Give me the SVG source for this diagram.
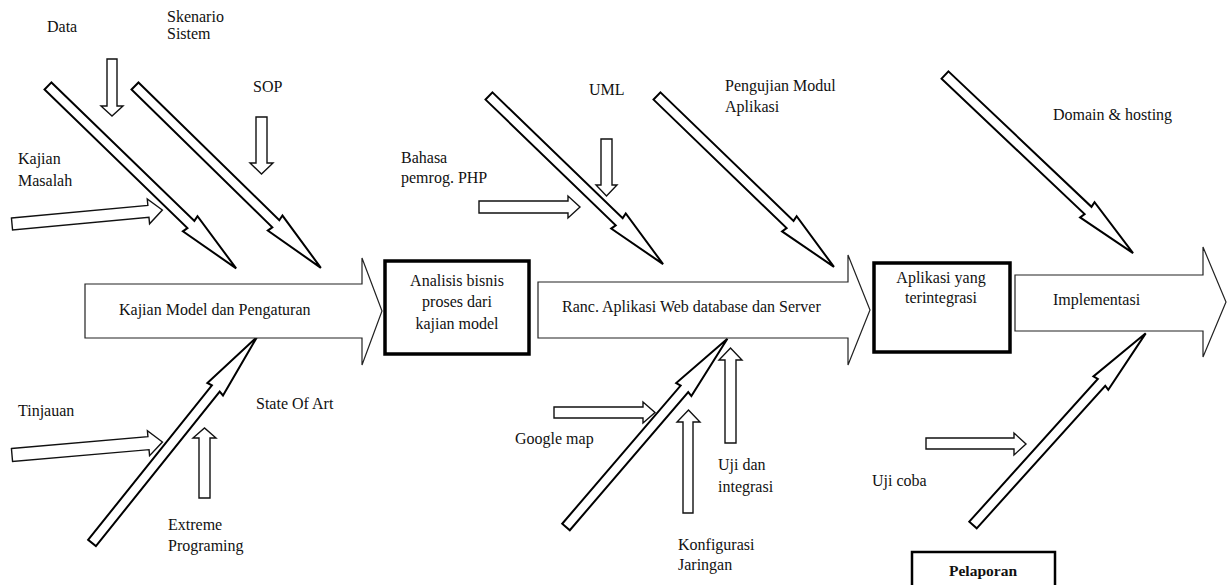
<svg xmlns="http://www.w3.org/2000/svg" width="1227" height="585" viewBox="0 0 1227 585" font-family="'Liberation Serif', 'Times New Roman', serif">
<style>
.spine{fill:#fff;stroke:#222;stroke-width:1.2}
.bone{fill:#fff;stroke:#000;stroke-width:2}
.small{fill:#fff;stroke:#111;stroke-width:1.4}
.box{fill:#fff;stroke:#000;stroke-width:3.5}
text{font-family:'Liberation Serif','Times New Roman',serif;font-size:16px;fill:#111}
.c{text-anchor:middle}
.b{font-weight:bold}
</style>
<rect width="1227" height="585" fill="#fff"/>
<g id="connectors">
  <path class="bone" transform="translate(48,86) rotate(44.1)" d="M0,-5 L199,-5 L198,-10.5 L262,0 L198,10.5 L199,5 L0,5 Z"/>
  <path class="bone" transform="translate(135,86) rotate(44.37)" d="M0,-5 L197,-5 L196,-10.5 L260,0 L196,10.5 L197,5 L0,5 Z"/>
  <path class="bone" transform="translate(489,96) rotate(44)" d="M0,-5 L181,-5 L180,-10.5 L242,0 L180,10.5 L181,5 L0,5 Z"/>
  <path class="bone" transform="translate(657,96) rotate(44)" d="M0,-5 L185,-5 L184,-10.5 L246,0 L184,10.5 L185,5 L0,5 Z"/>
  <path class="bone" transform="translate(945,75) rotate(43.44)" d="M0,-5 L197,-5 L196,-10.5 L259,0 L196,10.5 L197,5 L0,5 Z"/>
  <path class="bone" transform="translate(92,543) rotate(-51.3)" d="M0,-5 L198,-5 L197,-10 L264,0 L197,10 L198,5 L0,5 Z"/>
  <path class="bone" transform="translate(566,527) rotate(-49.4)" d="M0,-5 L182,-5 L181,-10 L248,0 L181,10 L182,5 L0,5 Z"/>
  <path class="bone" transform="translate(973,525) rotate(-47.98)" d="M0,-5 L192,-5 L191,-10 L258,0 L191,10 L192,5 L0,5 Z"/>
  <path class="small" d="M107,59 L117,59 L117,106 L123,106 L112,116 L101,106 L107,106 Z"/>
  <path class="small" d="M256,117 L267,117 L267,163 L273,163 L261.5,174 L250,163 L256,163 Z"/>
  <path class="small" d="M601,139 L612,139 L612,185 L617,185 L606.5,196 L596,185 L601,185 Z"/>
  <path class="small" d="M199,498 L210,498 L210,438 L216,438 L204.5,428 L193,438 L199,438 Z"/>
  <path class="small" d="M683,513 L693,513 L693,422 L700,422 L688.5,410 L677,422 L683,422 Z"/>
  <path class="small" d="M725,443 L736,443 L736,360 L742,360 L730.5,348 L719,360 L725,360 Z"/>
  <path class="small" d="M479,201 L568,201 L568,196 L580,207 L568,218 L568,213 L479,213 Z"/>
  <path class="small" d="M554,407 L643,407 L643,402 L655,412.5 L643,423 L643,418 L554,418 Z"/>
  <path class="small" d="M926,438 L1014,438 L1014,433 L1026,444 L1014,455 L1014,449 L926,449 Z"/>
  <path class="small" transform="translate(12,224) rotate(-5.3)" d="M0,-6 L137,-6 L137,-12.5 L151,0 L137,12.5 L137,6 L0,6 Z"/>
  <path class="small" transform="translate(12,455) rotate(-4.95)" d="M0,-6.5 L137,-6.5 L137,-12.5 L151,0 L137,12.5 L137,6.5 L0,6.5 Z"/>
</g>
<g id="spine1">
  <path class="spine" d="M85,284 L362,284 L362,258 L382,311 L362,365 L362,338 L85,338 Z"/>
  <text x="119" y="315">Kajian Model dan Pengaturan</text>
</g>
<g id="spine2">
  <path class="spine" d="M538,282 L848,282 L848,255 L870,310 L848,365 L848,338 L538,338 Z"/>
  <text x="562" y="312">Ranc. Aplikasi Web database dan Server</text>
</g>
<g id="spine3">
  <path class="spine" d="M1015,275 L1203,275 L1203,247 L1226,302 L1203,357 L1203,331 L1015,331 Z"/>
  <text x="1053" y="305">Implementasi</text>
</g>
<g id="box-analisis">
  <rect class="box" x="385" y="261" width="144" height="93"/>
  <text class="c" x="457" y="286">Analisis bisnis</text>
  <text class="c" x="457" y="307">proses dari</text>
  <text class="c" x="457" y="329">kajian model</text>
</g>
<g id="box-aplikasi">
  <rect class="box" x="874" y="263" width="136" height="89"/>
  <text class="c" x="941" y="283">Aplikasi yang</text>
  <text class="c" x="941" y="303">terintegrasi</text>
</g>
<g id="box-pelaporan">
  <rect x="912" y="552" width="143" height="40" fill="#fff" stroke="#000" stroke-width="2.5"/>
  <text class="c b" x="983" y="576" style="font-size:15.5px">Pelaporan</text>
</g>
<g id="labels">
  <text x="47" y="32">Data</text>
  <text x="167" y="22">Skenario</text>
  <text x="167" y="39">Sistem</text>
  <text x="253" y="92">SOP</text>
  <text x="18" y="164">Kajian</text>
  <text x="18" y="186">Masalah</text>
  <text x="18" y="416">Tinjauan</text>
  <text x="256" y="409">State Of Art</text>
  <text x="168" y="530">Extreme</text>
  <text x="168" y="551">Programing</text>
  <text x="589" y="95">UML</text>
  <text x="725" y="91">Pengujian Modul</text>
  <text x="725" y="112">Aplikasi</text>
  <text x="401" y="163">Bahasa</text>
  <text x="401" y="183">pemrog. PHP</text>
  <text x="515" y="444">Google map</text>
  <text x="718" y="470">Uji dan</text>
  <text x="718" y="492">integrasi</text>
  <text x="678" y="550">Konfigurasi</text>
  <text x="678" y="570">Jaringan</text>
  <text x="1053" y="120">Domain &amp; hosting</text>
  <text x="872" y="486">Uji coba</text>
</g>
</svg>
